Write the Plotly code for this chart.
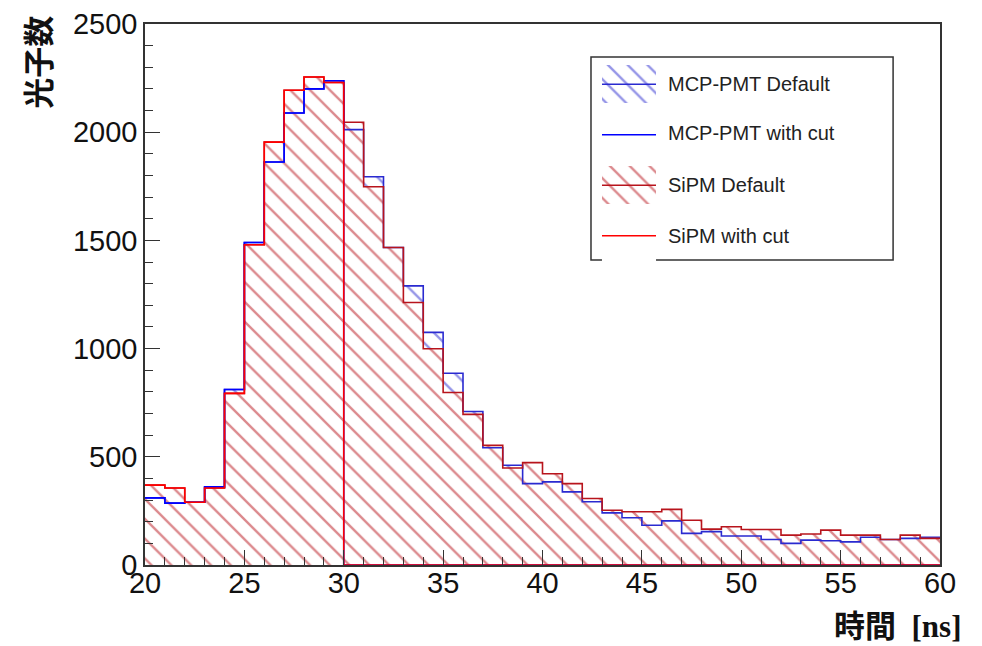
import plotly.graph_objects as go

# 1 ns bins from 20 to 60 ns
bin_edges = list(range(20, 61))
bin_centers = [e + 0.5 for e in bin_edges[:-1]]

# photon counts per bin
mcp_default = [310, 286, 290, 361, 811, 1490, 1862, 2089, 2200, 2238,
               2012, 1794, 1467, 1290, 1075, 886, 709, 542, 461, 376,
               384, 338, 292, 241, 218, 184, 204, 146, 154, 134,
               134, 118, 100, 115, 112, 107, 128, 118, 123, 128]
sipm_default = [369, 356, 290, 356, 793, 1480, 1954, 2194, 2255, 2230,
                2046, 1748, 1467, 1213, 999, 797, 696, 553, 448, 473,
                422, 376, 307, 253, 246, 246, 257, 207, 166, 177,
                164, 164, 138, 143, 161, 138, 138, 118, 138, 123]
# "with cut" keeps only t < 30 ns
mcp_cut = [310, 286, 290, 361, 811, 1490, 1862, 2089, 2200, 2238] + [0] * 30
sipm_cut = [369, 356, 290, 356, 793, 1480, 1954, 2194, 2255, 2230] + [0] * 30

names = ['MCP-PMT Default', 'MCP-PMT with cut', 'SiPM Default', 'SiPM with cut']
hatched = [True, False, True, False]

BLUE = '#0000ff'
BLUE_D = '#2a2ad0'
RED = '#ff0000'
RED_D = '#b8141c'
CLEAR = 'rgba(0,0,0,0)'
colors = [BLUE_D, BLUE, RED_D, RED]


def pattern(color, bg):
    return dict(shape='\\', fgcolor=color, bgcolor=bg, size=14, solidity=0.17)


def hatch(vals, color, bg):
    return go.Bar(x=bin_centers, y=vals, width=1, showlegend=False, hoverinfo='skip',
                  marker=dict(color=bg, line=dict(width=0), pattern=pattern(color, bg)))


def step(vals, color):
    return go.Scatter(x=bin_edges, y=vals + [vals[-1]], mode='lines', line_shape='hv',
                      line=dict(color=color, width=1.6), showlegend=False, hoverinfo='skip')


fig = go.Figure()
fig.add_trace(hatch(mcp_default, BLUE_D, CLEAR))
# SiPM hatch drawn on a white background so it hides the blue hatch below it
fig.add_trace(hatch(sipm_default, RED_D, 'white'))
fig.add_trace(step(mcp_default, BLUE_D))
fig.add_trace(step(sipm_default, RED_D))
fig.add_trace(step(mcp_cut, BLUE))
fig.add_trace(step(sipm_cut, RED))

# hand-made legend: symbols on a small inset axis, labels as annotations
items = list(range(len(names)))
for i in items:
    if hatched[i]:
        fig.add_trace(go.Bar(x=[1], y=[i], base=0, orientation='h', width=0.76,
                             xaxis='x2', yaxis='y2', showlegend=False, hoverinfo='skip',
                             marker=dict(color=CLEAR, line=dict(width=0),
                                         pattern=pattern(colors[i], CLEAR))))
    fig.add_trace(go.Scatter(x=[0, 1], y=[i, i], mode='lines', xaxis='x2', yaxis='y2',
                             line=dict(color=colors[i], width=1.6),
                             showlegend=False, hoverinfo='skip'))

leg_x0, leg_x1 = 0.561, 0.941
leg_y0, leg_y1 = 0.564, 0.939
label_y = [0.889, 0.7985, 0.7024, 0.608]

annotations = [
    dict(text='<b>光子数</b>', xref='paper', yref='paper', x=-0.136, y=0.93,
         xanchor='center', yanchor='middle', textangle=-90, showarrow=False,
         font=dict(family='Noto Sans CJK JP', size=31, color='#111')),
    dict(text='<b>時間\u00a0\u00a0[ns]</b>', xref='paper', yref='paper', x=1.029, y=-0.113,
         xanchor='right', yanchor='middle', showarrow=False,
         font=dict(family='Liberation Serif, Noto Sans CJK JP', size=31, color='#111')),
]
for i in items:
    annotations.append(dict(text=names[i], xref='paper', yref='paper', x=0.655, y=label_y[i],
                            xanchor='left', yanchor='middle', showarrow=False,
                            font=dict(family='Liberation Sans, Arial, sans-serif',
                                      size=20, color='#222')))

tick_font = dict(family='Liberation Sans, Arial, sans-serif', size=29, color='#111')
axis_common = dict(ticks='inside', ticklen=15, tickcolor='#333', showline=True,
                   linecolor='#333', linewidth=1.5, mirror=True, showgrid=False,
                   zeroline=False, tickfont=tick_font, automargin=False)

# the page body adds ~8px offset, so margins are trimmed on the left/top
fig.update_layout(
    width=982, height=646,
    margin=dict(l=137, r=50, t=16, b=89),
    plot_bgcolor='white', paper_bgcolor='white',
    barmode='overlay', bargap=0,
    showlegend=False,
    shapes=[dict(type='rect', xref='paper', yref='paper',
                 x0=leg_x0, x1=leg_x1, y0=leg_y0, y1=leg_y1,
                 line=dict(color='#333', width=1.5), fillcolor='white', layer='below')],
    annotations=annotations,
    xaxis=dict(range=[20, 60], dtick=5, tick0=20, ticklabelstandoff=-9,
               minor=dict(dtick=1, ticks='inside', ticklen=8, tickcolor='#333', showgrid=False),
               **axis_common),
    yaxis=dict(range=[0, 2500], dtick=500, tick0=0,
               minor=dict(dtick=100, ticks='inside', ticklen=8, tickcolor='#333', showgrid=False),
               **axis_common),
    xaxis2=dict(domain=[0.5748, 0.6428], range=[0, 1], anchor='y2', visible=False,
                fixedrange=True),
    yaxis2=dict(domain=[0.5619, 0.9353], range=[3.5, -0.5], anchor='x2', visible=False,
                fixedrange=True),
)

fig.write_html('out.html')
